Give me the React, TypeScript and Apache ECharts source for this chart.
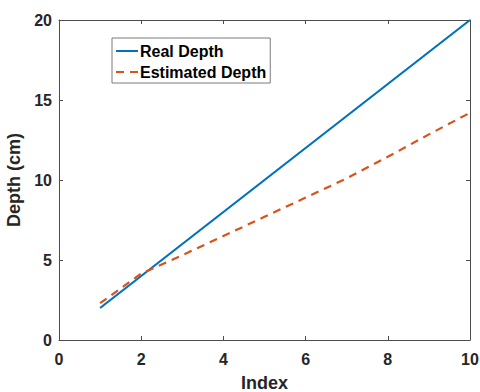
import React, { useEffect, useRef } from "react";
import * as echarts from "echarts";

const indexValues = [1, 2, 3, 4, 5, 6, 7, 8, 9, 10];
const realDepth = [2, 4, 6, 8, 10, 12, 14, 16, 18, 20];
const estimatedDepth = [2.3, 4.15, 5.3, 6.5, 7.7, 8.9, 10.1, 11.45, 12.85, 14.2];
const seriesNames = ["Real Depth", "Estimated Depth"];

export default function App() {
  const ref = useRef<HTMLDivElement>(null);
  useEffect(() => {
    if (!ref.current) return;
    const chart = echarts.init(ref.current, undefined, { renderer: "svg" });
    const font = "'Liberation Sans', Arial, sans-serif";
    const axisColor = "#4d4d4d";
    const labelStyle = { fontFamily: font, fontWeight: "bold" as const, fontSize: 16, color: "#262626" };
    const frameLine = { show: true, onZero: false, lineStyle: { color: axisColor, width: 1 } };
    const tick = { show: true, inside: true, length: 4, lineStyle: { color: axisColor } };
    chart.setOption({
      animation: false,
      backgroundColor: "#ffffff",
      grid: { left: 59, right: 10, top: 20, bottom: 52, containLabel: false, outerBoundsMode: "none" },
      legend: {
        orient: "vertical",
        left: 112,
        top: 38,
        padding: [5, 4, 3, 3],
        itemWidth: 22,
        itemHeight: 14,
        itemGap: 5,
        backgroundColor: "#ffffff",
        borderColor: "#7a7a7a",
        borderWidth: 1,
        borderRadius: 0,
        itemStyle: { opacity: 0 },
        textStyle: { fontFamily: font, fontWeight: "bold", fontSize: 16, color: "#000000", padding: [0, 0, 0, -3] },
        data: seriesNames,
      },
      xAxis: [
        {
          type: "value",
          min: 0,
          max: 10,
          interval: 2,
          position: "bottom",
          name: "Index",
          nameLocation: "middle",
          nameGap: 34,
          nameTextStyle: { fontFamily: font, fontWeight: "bold", fontSize: 18, color: "#262626" },
          axisLine: frameLine,
          axisTick: tick,
          axisLabel: { ...labelStyle, margin: 11 },
          splitLine: { show: false },
        },
        {
          type: "value",
          min: 0,
          max: 10,
          interval: 2,
          position: "top",
          axisLine: frameLine,
          axisTick: tick,
          axisLabel: { show: false },
          splitLine: { show: false },
        },
      ],
      yAxis: [
        {
          type: "value",
          min: 0,
          max: 20,
          interval: 5,
          position: "left",
          name: "Depth (cm)",
          nameLocation: "middle",
          nameGap: 25,
          nameTextStyle: { fontFamily: font, fontWeight: "bold", fontSize: 18, color: "#262626" },
          axisLine: frameLine,
          axisTick: tick,
          axisLabel: { ...labelStyle, margin: 7 },
          splitLine: { show: false },
        },
        {
          type: "value",
          min: 0,
          max: 20,
          interval: 5,
          position: "right",
          axisLine: frameLine,
          axisTick: tick,
          axisLabel: { show: false },
          splitLine: { show: false },
        },
      ],
      series: [
        {
          name: seriesNames[0],
          type: "line",
          xAxisIndex: 0,
          yAxisIndex: 0,
          symbol: "none",
          data: indexValues.map((x, i) => [x, realDepth[i]]),
          lineStyle: { color: "#0072BD", width: 2.2 },
          itemStyle: { color: "#0072BD" },
        },
        {
          name: seriesNames[1],
          type: "line",
          xAxisIndex: 0,
          yAxisIndex: 0,
          symbol: "none",
          data: indexValues.map((x, i) => [x, estimatedDepth[i]]),
          lineStyle: { color: "#D95319", width: 2.2, type: [8, 6] },
          itemStyle: { color: "#D95319" },
        },
      ],
    });
    return () => chart.dispose();
  }, []);
  return <div ref={ref} style={{ width: 480, height: 392, position: "fixed", left: 0, top: 0 }} />;
}
